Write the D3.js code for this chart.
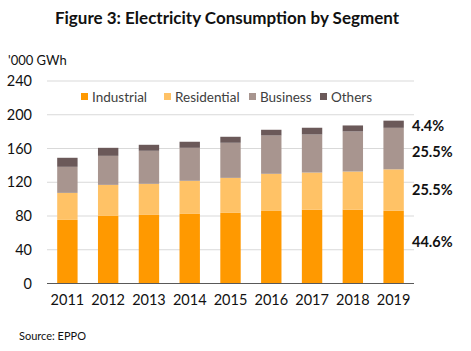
<!DOCTYPE html>
<html><head><meta charset="utf-8">
<script src="https://cdn.jsdelivr.net/npm/d3@7/dist/d3.min.js"></script>
<style>body{margin:0;background:#fff}svg{display:block}</style>
</head><body>
<svg id="c" width="471" height="351"></svg>
<script>
const years = ["2011","2012","2013","2014","2015","2016","2017","2018","2019"];
const industrial  = [75.4, 80.1, 81.3, 82.5, 83.7, 86.0, 87.6, 87.6, 86.1];
const residential = [32.0, 36.8, 36.8, 39.2, 41.5, 44.0, 43.9, 45.1, 49.2];
const business    = [30.9, 34.4, 39.2, 39.1, 41.6, 45.4, 45.1, 47.5, 49.2];
const others      = [10.7, 9.5, 7.1, 7.2, 7.1, 6.8, 8.0, 7.1, 8.5];
const seriesNames = ["Industrial","Residential","Business","Others"];
const shareLabels = ["44.6%","25.5%","25.5%","4.4%"];
const yTicks = [0,40,80,120,160,200,240];
const colors = ["#ff9900","#ffc266","#a8958f","#6b5959"];

const font = "Lato, 'Open Sans', sans-serif";
const svg = d3.select("#c");
const rows = years.map((y,i)=>({year:y, Industrial:industrial[i], Residential:residential[i], Business:business[i], Others:others[i]}));
const stack = d3.stack().keys(seriesNames)(rows);

const x = d3.scaleBand().domain(years).range([47,414]).paddingInner(0.5).paddingOuter(0.25);
const y = d3.scaleLinear().domain([0,240]).range([283.5,81]);

// gridlines
svg.append("g").selectAll("line").data(yTicks.filter(t=>t>0)).join("line")
  .attr("x1",47).attr("x2",414).attr("y1",d=>y(d)).attr("y2",d=>y(d))
  .attr("stroke","#d9d9d9").attr("stroke-width",1);

// bars
svg.append("g").selectAll("g").data(stack).join("g")
  .attr("fill",(d,i)=>colors[i])
  .selectAll("rect").data(d=>d).join("rect")
  .attr("x",d=>x(d.data.year)).attr("width",x.bandwidth())
  .attr("y",d=>y(d[1])).attr("height",d=>y(d[0])-y(d[1]));

// baseline
svg.append("line").attr("x1",47).attr("x2",414).attr("y1",y(0)).attr("y2",y(0))
  .attr("stroke","#595959").attr("stroke-width",1);

// y axis labels
const yAxis = d3.axisLeft(y).tickValues(yTicks).tickSize(0).tickPadding(0);
const ya = svg.append("g").attr("transform","translate(32,0)").call(yAxis);
ya.select(".domain").remove();
ya.selectAll("text").attr("font-family",font).attr("font-size",14.5).attr("fill","#111");

// x axis labels
const xAxis = d3.axisBottom(x).tickSize(0).tickPadding(0);
const xa = svg.append("g").attr("transform","translate(0,295)").call(xAxis);
xa.select(".domain").remove();
xa.selectAll("text").attr("font-family",font).attr("font-size",14.5).attr("fill","#111");

// title
svg.append("text").attr("x",227).attr("y",24).attr("text-anchor","middle")
  .attr("font-family",font).attr("font-weight","bold").attr("font-size",17).attr("fill","#111")
  .text("Figure 3: Electricity Consumption by Segment");

// unit
svg.append("text").attr("x",8).attr("y",65).attr("font-family",font).attr("font-size",13).attr("fill","#111")
  .text("'000 GWh");

// legend
const legX = [81,164,249,320];
const lg = svg.append("g").selectAll("g").data(seriesNames).join("g")
  .attr("transform",(d,i)=>`translate(${legX[i]},93)`);
lg.append("rect").attr("width",7).attr("height",7).attr("fill",(d,i)=>colors[i]);
lg.append("text").attr("x",11).attr("y",8.5).attr("font-family",font).attr("font-size",13.5).attr("fill","#404040").text(d=>d);

// share labels
const last = stack.map(s=>s[s.length-1]);
const shareY = [242,190,152,126];
svg.append("g").selectAll("text").data(shareLabels).join("text")
  .attr("x",412).attr("y",(d,i)=>shareY[i]+5)
  .attr("font-family",font).attr("font-weight","bold").attr("font-size",14.5).attr("fill","#111")
  .text(d=>d);

// source
svg.append("text").attr("x",19).attr("y",340).attr("font-family",font).attr("font-size",11).attr("fill","#111")
  .text("Source: EPPO");
</script>
</body></html>
